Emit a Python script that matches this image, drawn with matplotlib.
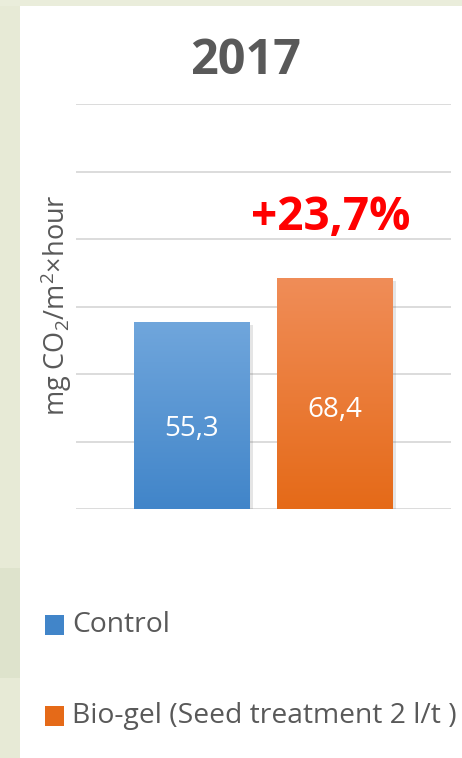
import numpy as np
import matplotlib
matplotlib.use("Agg")
import matplotlib.pyplot as plt
from matplotlib.patches import Rectangle
import matplotlib.patheffects as pe

plt.rcParams['font.family'] = ['Open Sans', 'DejaVu Sans']
plt.rcParams['mathtext.fontset'] = 'custom'
plt.rcParams['mathtext.rm'] = 'Open Sans'
plt.rcParams['mathtext.it'] = 'Open Sans'

# data
series = ['Control', 'Bio-gel (Seed treatment 2 l/t )']
values = [55.3, 68.4]
value_labels = ['55,3', '68,4']
title = '2017'
increase_label = '+23,7%'
ylabel = r'mg CO$_2$/m$^2$×hour'
y_max = 120
y_step = 20

# gradient colours (top, bottom)
grads = [('#70a6dc', '#4185c9'), ('#f08d58', '#e56a18')]
gray = '#595959'

fig = plt.figure(figsize=(4.62, 7.58), dpi=100)
fig.patch.set_facecolor('white')

# slide background strips
fig.add_artist(Rectangle((0, 0), 20 / 462, 1, transform=fig.transFigure,
                         facecolor='#e7ead6', edgecolor='none', zorder=-5))
fig.add_artist(Rectangle((0, 1 - 6 / 758), 1, 6 / 758, transform=fig.transFigure,
                         facecolor='#eaeddb', edgecolor='none', zorder=-5))
fig.add_artist(Rectangle((0, 80 / 758), 20 / 462, 110 / 758, transform=fig.transFigure,
                         facecolor='#d6ddc4', edgecolor='none', zorder=-4, alpha=0.5))

ax = fig.add_axes([76 / 462, (758 - 509) / 758, 375 / 462, 405 / 758])
ax.set_xlim(-0.811, 1.811)
ax.set_ylim(0, y_max)
ax.set_yticks(np.arange(0, y_max + 1, y_step))
ax.set_xticks([])
ax.tick_params(axis='y', length=0, labelleft=False)
ax.grid(True, axis='y', color='#d9d9d9', linewidth=1.3)
ax.set_axisbelow(True)
for s in ax.spines.values():
    s.set_visible(False)

x = np.arange(len(values))
bars = ax.bar(x, values, width=0.81, color='none', zorder=2)
for b, (top, bot), lab, v in zip(bars, grads, value_labels, values):
    b.set_path_effects([pe.SimplePatchShadow(offset=(2, -2), alpha=0.15, shadow_rgbFace='#555555'),
                        pe.Normal()])
    b.set_facecolor(bot)
    c0 = np.array(matplotlib.colors.to_rgb(top))
    c1 = np.array(matplotlib.colors.to_rgb(bot))
    t = np.linspace(0, 1, 256)[:, None]
    img = (c0 * (1 - t) + c1 * t)[:, None, :]
    x0, y0, w, h = b.get_x(), b.get_y(), b.get_width(), b.get_height()
    im = ax.imshow(img, extent=(x0, x0 + w, y0, y0 + h), aspect='auto',
                   origin='upper', zorder=3)
    im.set_clip_path(b)
    ax.text(x0 + w / 2, v * 0.43, lab, ha='center', va='center',
            color='white', fontsize=20, zorder=4)

ax.set_xlim(-0.811, 1.811)
ax.set_ylim(0, y_max)

fig.text(246 / 462, 1 - 62 / 758, title, ha='center', va='center',
         fontsize=35, fontweight='bold', color=gray)
fig.text(331 / 462, 1 - 217 / 758, increase_label, ha='center', va='center',
         fontsize=33, fontweight='bold', color='#ff0000')
fig.text(56 / 462, 1 - 305 / 758, ylabel, rotation=90, ha='center', va='center',
         fontsize=19.5, color=gray)

# legend
leg_y = [625, 716]
for name, (top, bot), yy in zip(series, grads, leg_y):
    fig.add_artist(Rectangle((45 / 462, 1 - (yy + 10) / 758), 19 / 462, 20 / 758,
                             transform=fig.transFigure, facecolor=bot, edgecolor='none'))
    fig.text(72 / 462, 1 - yy / 758, name, ha='left', va='center',
             fontsize=20.3, color=gray)

fig.savefig('out.png', dpi=100)
